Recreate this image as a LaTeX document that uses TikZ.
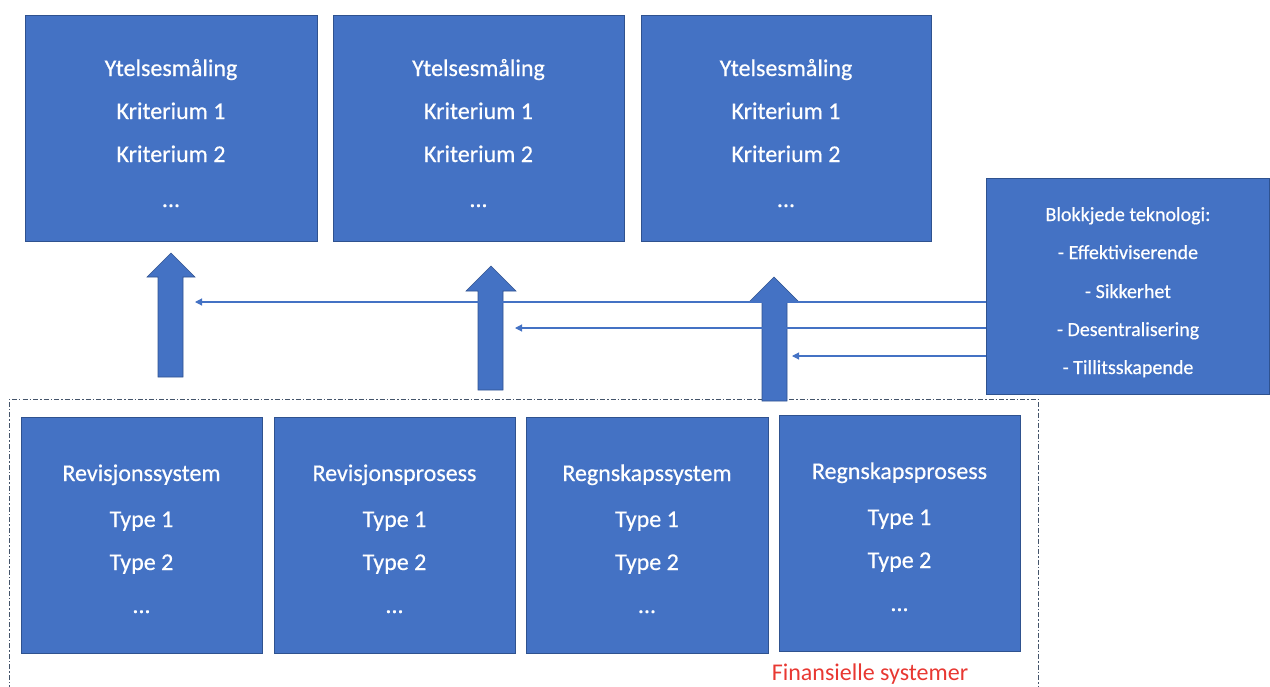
\documentclass[tikz,border=0pt]{standalone}
\usepackage{fontspec}
\setmainfont{Carlito}
\newfontfamily\boxfont{Carlito}[FakeBold=0.5]
\usetikzlibrary{arrows.meta}
\definecolor{boxblue}{RGB}{68,114,196}
\definecolor{boxedge}{RGB}{47,82,143}
\definecolor{frame}{RGB}{68,84,106}
\definecolor{labelred}{RGB}{232,56,50}
\tikzset{
  block/.style={draw=boxedge, line width=0.8pt, fill=boxblue, anchor=north west, inner sep=0pt},
  boxtext/.style={text=white, font=\boxfont\fontsize{24}{28}\selectfont, anchor=base, inner sep=0pt},
  smalltext/.style={text=white, font=\boxfont\fontsize{20}{24}\selectfont, anchor=base, inner sep=0pt},
  bigarrow/.style={fill=boxblue, draw=boxedge, line width=0.6pt},
  thinarrow/.style={draw=boxblue, line width=1.1pt, -{Triangle[length=7pt,width=7pt]}},
  groupframe/.style={draw=frame, line width=0.9pt, dash pattern=on 5pt off 2pt on 1.5pt off 2pt},
}
\begin{document}
\begin{tikzpicture}[x=1pt, y=-1pt]
\useasboundingbox (0,0) rectangle (1270,686);

% performance measurement boxes
\foreach \n/\xl/\xr in {1/25/317, 2/333/624, 3/641/931}{
  \node[block, minimum width={(\xr-\xl)*1pt}, minimum height=226pt] (perf\n) at (\xl,15) {};
  \pgfmathsetmacro{\cx}{(\xl+\xr)/2}
  \node[boxtext] (perf\n-a) at (\cx,76) {Ytelsesmåling};
  \node[boxtext] (perf\n-b) at (\cx,119) {Kriterium 1};
  \node[boxtext] (perf\n-c) at (\cx,162) {Kriterium 2};
  \node[boxtext] (perf\n-d) at (\cx,207) {...};
}

% blockchain box
\node[block, minimum width=283pt, minimum height=216pt] (chain) at (986,178) {};
\node[smalltext] (chain-a) at (1128,221) {Blokkjede teknologi:};
\node[smalltext] (chain-b) at (1128,259) {- Effektiviserende};
\node[smalltext] (chain-c) at (1128,298) {- Sikkerhet};
\node[smalltext] (chain-d) at (1128,336) {- Desentralisering};
\node[smalltext] (chain-e) at (1128,374) {- Tillitsskapende};

% frame around the financial systems
\draw[groupframe] (9,690) -- (9,399) -- (1038,399) -- (1038,690);

% financial system boxes
\foreach \n/\xl/\xr/\yt/\title in {1/21/262/417/Revisjonssystem, 2/274/515/417/Revisjonsprosess, 3/526/768/417/Regnskapssystem, 4/779/1020/415/Regnskapsprosess}{
  \node[block, minimum width={(\xr-\xl)*1pt}, minimum height=236pt] (fin\n) at (\xl,\yt) {};
  \pgfmathsetmacro{\cx}{(\xl+\xr)/2}
  \pgfmathsetmacro{\dy}{\yt-417}
  \node[boxtext] (fin\n-a) at (\cx,481+\dy) {\title};
  \node[boxtext] (fin\n-b) at (\cx,527+\dy) {Type 1};
  \node[boxtext] (fin\n-c) at (\cx,570+\dy) {Type 2};
  \node[boxtext] (fin\n-d) at (\cx,613+\dy) {...};
}
\node[text=labelred, font=\fontsize{24}{28}\selectfont, anchor=base, inner sep=0pt] (finlabel) at (870,680) {Finansielle systemer};

% block arrows from the financial systems up to the measurements
\draw[bigarrow] (158,377) -- (158,277) -- (147,277) -- (171,253) -- (195,277) -- (183,277) -- (183,377) -- cycle;
\draw[bigarrow] (478,390) -- (478,291) -- (466,291) -- (491,266) -- (516,291) -- (503,291) -- (503,390) -- cycle;
\draw[bigarrow] (762,401) -- (762,302) -- (749,302) -- (774,277) -- (799,302) -- (787,302) -- (787,401) -- cycle;

% influence of blockchain on each arrow
\coordinate (tip1) at (195,302);
\coordinate (tip2) at (515,328);
\coordinate (tip3) at (792,356);
\draw[thinarrow] (chain.west |- tip1) -- (tip1);
\draw[thinarrow] (chain.west |- tip2) -- (tip2);
\draw[thinarrow] (chain.west |- tip3) -- (tip3);
\end{tikzpicture}
\end{document}
